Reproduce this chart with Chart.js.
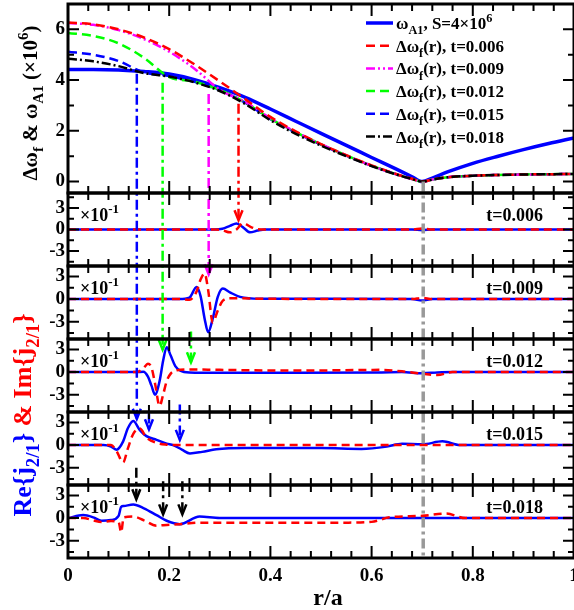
<!DOCTYPE html>
<html>
<head>
<meta charset="utf-8">
<script src="https://cdn.jsdelivr.net/npm/chart.js@4.4.1/dist/chart.umd.min.js"></script>
<style>
  html, body { margin: 0; padding: 0; background: #fff; }
  #wrap { width: 574px; height: 610px; }
</style>
</head>
<body>
<div id="wrap"><canvas id="chart" width="574" height="610"></canvas></div>
<script>
// ---- top panel: frequencies (x10^6) ----
const rTop = [0, 0.05, 0.1, 0.15, 0.2, 0.25, 0.3, 0.35, 0.4, 0.45, 0.5, 0.55, 0.6, 0.65, 0.68, 0.7, 0.72, 0.75, 0.8, 0.85, 0.9, 0.95, 1.0];
const omegaA1 = [4.42, 4.42, 4.40, 4.34, 4.24, 4.02, 3.70, 3.32, 2.86, 2.38, 1.90, 1.43, 0.95, 0.48, 0.19, 0.0, 0.14, 0.38, 0.72, 1.00, 1.26, 1.50, 1.72];
const dwf006 = [6.27, 6.20, 6.00, 5.68, 5.22, 4.62, 3.95, 3.25, 2.55, 1.98, 1.48, 1.04, 0.64, 0.29, 0.11, 0.0, 0.08, 0.17, 0.23, 0.26, 0.28, 0.29, 0.30];
const dwf009 = [6.25, 6.18, 5.97, 5.62, 5.12, 4.45, 3.62, 3.14, 2.50, 1.96, 1.47, 1.03, 0.63, 0.28, 0.10, 0.0, 0.08, 0.17, 0.23, 0.26, 0.28, 0.29, 0.30];
const dwf012 = [5.86, 5.74, 5.45, 4.88, 4.12, 3.94, 3.61, 3.12, 2.48, 1.95, 1.47, 1.03, 0.63, 0.28, 0.10, 0.0, 0.08, 0.17, 0.23, 0.26, 0.28, 0.29, 0.30];
const dwf015 = [5.12, 5.00, 4.75, 4.30, 4.16, 3.93, 3.60, 3.11, 2.46, 1.93, 1.46, 1.02, 0.62, 0.28, 0.10, 0.0, 0.08, 0.17, 0.23, 0.26, 0.28, 0.29, 0.30];
const dwf018 = [4.84, 4.74, 4.55, 4.28, 4.14, 3.91, 3.57, 3.06, 2.42, 1.88, 1.42, 1.00, 0.61, 0.27, 0.10, 0.0, 0.08, 0.17, 0.23, 0.26, 0.28, 0.29, 0.30];

// ---- lower panels: Re{j21} and Im{j21} (x10^-1) ----
const tLabels = ["0.006", "0.009", "0.012", "0.015", "0.018"];

const r006 = [0, 0.29, 0.305, 0.32, 0.333, 0.346, 0.36, 0.375, 0.39, 0.68, 0.70, 0.72, 1.0];
const re006 = [0, 0, 0.1, 0.5, 0.85, 0.3, -0.4, -0.15, 0, 0, -0.1, 0, 0];
const im006 = [0, 0, -0.1, -0.4, 0.0, 0.9, 0.4, 0.05, 0, 0, 0.15, 0, 0];

const r009 = [0, 0.22, 0.24, 0.254, 0.262, 0.27, 0.277, 0.286, 0.296, 0.306, 0.32, 0.34, 0.38, 0.68, 0.70, 0.72, 1.0];
const re009 = [0, 0, 0.2, 1.6, 0.4, -2.6, -4.4, -2.6, 0.3, 1.4, 0.9, 0.3, 0.05, 0, -0.2, 0, 0];
const im009 = [0, 0, -0.1, 1.0, 2.6, 3.4, 1.2, -3.1, -1.5, -0.2, 0.1, 0.1, 0.05, 0, 0.15, 0, 0];

const r012 = [0, 0.135, 0.149, 0.158, 0.165, 0.172, 0.181, 0.188, 0.195, 0.203, 0.212, 0.222, 0.24, 0.3, 0.45, 0.62, 0.66, 0.7, 0.73, 0.76, 1.0];
const re012 = [0, 0, 0.05, -0.6, -1.8, -3.0, -1.2, 1.5, 3.3, 2.2, 0.8, 0.2, -0.05, -0.1, -0.1, -0.05, 0, -0.15, -0.05, 0, 0];
const im012 = [0, 0, 0.5, 1.1, 0.6, -1.5, -4.5, -3.0, -1.2, -0.2, 0.2, 0.3, 0.35, 0.3, 0.2, 0.3, 0.1, -0.2, -0.4, 0, 0];

const r015 = [0, 0.07, 0.085, 0.096, 0.109, 0.118, 0.129, 0.142, 0.155, 0.175, 0.195, 0.208, 0.225, 0.241, 0.265, 0.293, 0.35, 0.5, 0.58, 0.63, 0.66, 0.7, 0.74, 0.775, 0.8, 1.0];
const re015 = [0, 0, -0.2, -0.6, 0.5, 2.2, 3.2, 2.0, 1.2, 0.7, 0.2, 0.0, -0.6, -1.1, -0.9, -0.56, -0.4, -0.4, -0.5, -0.2, 0.17, 0.1, 0.5, 0, 0, 0];
const im015 = [0, 0, 0, -0.8, -2.3, -0.5, 1.5, 2.2, 1.0, 0.3, 0.05, 0, 0, 0, 0, 0, 0, 0, 0, 0, 0, 0, 0, 0, 0, 0];

const r018 = [0, 0.03, 0.05, 0.066, 0.085, 0.1, 0.105, 0.11, 0.129, 0.15, 0.175, 0.195, 0.221, 0.26, 0.3, 0.4, 0.55, 0.6, 0.635, 0.7, 0.747, 0.786, 1.0];
const re018 = [0, 0.4, 0.1, -0.35, -0.26, 0.3, 1.5, 1.6, 1.8, 1.3, 0.4, -0.35, -0.8, 0.2, 0, 0, 0, 0, 0, 0, 0, 0, 0];
const im018 = [0, 0, -0.3, -0.5, -0.4, -0.5, -1.9, 0.1, 0.2, -0.3, -1.0, -0.9, -0.8, -0.6, -0.6, -0.6, -0.6, -0.5, 0.1, 0.3, 0.6, 0, 0];

// ---- guide arrows (r position, start axis/value, end axis/value) ----
const arrowR = [0.337, 0.278, 0.187, 0.243, 0.136, 0.160, 0.221, 0.135, 0.188, 0.226];
const arrowFromAxis = ["yw", "yw", "yw", "y009", "yw", "y015", "y012", "y015", "y015", "y015"];
const arrowFromVal = [3.07, 3.45, 3.9, -4.3, 4.25, 4.2, -4.3, -3.0, -4.8, -4.8];
const arrowToAxis = ["y006", "y009", "y012", "y012", "y015", "y015", "y015", "y018", "y018", "y018"];
const arrowToVal = [1.3, 3.3, 3.0, 1.3, 3.5, 2.1, 0.7, 2.5, 0.5, 0.5];
const arrowColor = ["#ff0000", "#ff00ff", "#00ff00", "#00ff00", "#0000ff", "#0000ff", "#0000ff", "#000000", "#000000", "#000000"];
const resonanceR = 0.702;

const topTicks = [0, 2, 4, 6];
const lowTicks = [-3, 0, 3];
const xTicks = [0, 0.2, 0.4, 0.6, 0.8, 1];

const SERIF = '"Liberation Serif", "Times New Roman", serif';
const bold = (size) => `bold ${size}px ${SERIF}`;
const panelAxes = ["y006", "y009", "y012", "y015", "y018"];
const panelR = [r006, r009, r012, r015, r018];
const panelRe = [re006, re009, re012, re015, re018];
const panelIm = [im006, im009, im012, im015, im018];

const toPoints = (xs, ys) => xs.map((x, i) => ({ x, y: ys[i] }));

const topSeries = [
  { label: "wA1", data: omegaA1, color: "#0000ff", dash: [], width: 3.5, order: 3 },
  { label: "0.006", data: dwf006, color: "#ff0000", dash: [9, 5], width: 2.5, order: 2 },
  { label: "0.009", data: dwf009, color: "#ff00ff", dash: [9, 3, 2, 3, 2, 3], width: 2.5, order: 2 },
  { label: "0.012", data: dwf012, color: "#00ff00", dash: [9, 5], width: 2.5, order: 2 },
  { label: "0.015", data: dwf015, color: "#0000ff", dash: [9, 5], width: 2.5, order: 2 },
  { label: "0.018", data: dwf018, color: "#000000", dash: [9, 3, 2, 3], width: 2.5, order: 1 },
];

const datasets = [];
topSeries.forEach((s) => {
  datasets.push({
    label: s.label,
    data: toPoints(rTop, s.data),
    yAxisID: "yw",
    borderColor: s.color,
    borderWidth: s.width,
    borderDash: s.dash,
    pointRadius: 0,
    cubicInterpolationMode: "monotone",
    order: s.order,
  });
});
panelAxes.forEach((id, i) => {
  datasets.push({
    label: "Re " + tLabels[i],
    data: toPoints(panelR[i], panelRe[i]),
    yAxisID: id,
    borderColor: "#0000ff",
    borderWidth: 2.5,
    pointRadius: 0,
    cubicInterpolationMode: "monotone",
    order: 2,
  });
  datasets.push({
    label: "Im " + tLabels[i],
    data: toPoints(panelR[i], panelIm[i]),
    yAxisID: id,
    borderColor: "#ff0000",
    borderWidth: 2.5,
    borderDash: [8, 5],
    pointRadius: 0,
    cubicInterpolationMode: "monotone",
    order: 1,
  });
});

const zeroPad = (s) => {
  s.paddingTop = 0;
  s.paddingBottom = 0;
  s.paddingLeft = 0;
  s.paddingRight = 0;
};

const yTickStyle = {
  color: "#000",
  font: { family: SERIF, size: 19, weight: "bold" },
  padding: 3,
  autoSkip: false,
  includeBounds: false,
};

const scales = {
  x: {
    type: "linear",
    min: 0,
    max: 1,
    position: "bottom",
    grid: { display: false, drawTicks: false },
    border: { display: false },
    ticks: {
      stepSize: 0.04,
      autoSkip: false,
      maxRotation: 0,
      includeBounds: false,
      padding: 7,
      color: "#000",
      font: { family: SERIF, size: 19, weight: "bold" },
      callback: (v) => (xTicks.some((t) => Math.abs(t - v) < 1e-6) ? String(Math.round(v * 10) / 10) : ""),
    },
    afterFit: (s) => {
      s.height = 52;
      zeroPad(s);
    },
  },
  yw: {
    type: "linear",
    position: "left",
    stack: "panels",
    stackWeight: 189 / 73,
    weight: 6,
    min: -0.45,
    max: 7,
    grid: { display: false, drawTicks: false },
    border: { display: false },
    ticks: { ...yTickStyle, stepSize: 1, callback: (v) => (topTicks.includes(v) ? String(v) : "") },
    afterFit: (s) => {
      s.width = 68;
      zeroPad(s);
    },
  },
};
panelAxes.forEach((id, i) => {
  scales[id] = {
    type: "linear",
    position: "left",
    stack: "panels",
    stackWeight: 1,
    weight: 5 - i,
    min: i === 0 ? -5.1 : -5.3,
    max: i === 0 ? 5.1 : 4.4,
    grid: { display: false, drawTicks: false },
    border: { display: false },
    ticks: { ...yTickStyle, stepSize: 1.5, callback: (v) => (lowTicks.includes(v) ? String(v) : "") },
    afterFit: (s) => {
      s.width = 68;
      zeroPad(s);
    },
  };
});

const richWidth = (ctx, parts, size) => {
  let w = 0;
  parts.forEach((p) => {
    ctx.font = bold(p.sub || p.sup ? size * 0.72 : size);
    w += ctx.measureText(p.t).width;
  });
  return w;
};

const drawRich = (ctx, parts, x, y, size, align) => {
  let cx = x;
  if (align === "center") cx -= richWidth(ctx, parts, size) / 2;
  if (align === "right") cx -= richWidth(ctx, parts, size);
  parts.forEach((p) => {
    const s = p.sub || p.sup ? size * 0.72 : size;
    ctx.font = bold(s);
    ctx.fillStyle = p.color || "#000";
    const dy = p.sub ? size * 0.3 : p.sup ? -size * 0.42 : 0;
    ctx.fillText(p.t, cx, y + dy);
    cx += ctx.measureText(p.t).width;
  });
};

const panelsPlugin = {
  id: "panels",
  afterDatasetsDraw(chart) {
    const { ctx, chartArea, scales: sc } = chart;
    const xs = sc.x;
    const left = chartArea.left;
    const right = chartArea.right;
    ctx.save();
    ctx.lineCap = "butt";

    // resonance line
    const gx = xs.getPixelForValue(resonanceR);
    ctx.strokeStyle = "#999999";
    ctx.lineWidth = 3.5;
    ctx.setLineDash([10, 4, 3, 4]);
    ctx.beginPath();
    ctx.moveTo(gx, sc.yw.getPixelForValue(0));
    ctx.lineTo(gx, sc.y018.bottom);
    ctx.stroke();

    // guide arrows
    arrowR.forEach((r, i) => {
      const px = xs.getPixelForValue(r);
      const y0 = sc[arrowFromAxis[i]].getPixelForValue(arrowFromVal[i]);
      const y1 = sc[arrowToAxis[i]].getPixelForValue(arrowToVal[i]);
      ctx.strokeStyle = arrowColor[i];
      ctx.lineWidth = 2.5;
      ctx.setLineDash([10, 4, 3, 4]);
      ctx.beginPath();
      ctx.moveTo(px, y0);
      ctx.lineTo(px, y1);
      ctx.stroke();
      ctx.setLineDash([]);
      ctx.beginPath();
      ctx.moveTo(px - 4, y1 - 10);
      ctx.lineTo(px, y1);
      ctx.lineTo(px + 4, y1 - 10);
      ctx.stroke();
    });

    // frames and inward ticks
    ctx.setLineDash([]);
    ["yw", ...panelAxes].forEach((id) => {
      const ys = sc[id];
      const top = ys.top;
      const bottom = ys.bottom;
      ctx.strokeStyle = "#000";
      ctx.lineWidth = 2;
      ctx.beginPath();
      xs.ticks.forEach((t) => {
        const px = xs.getPixelForValue(t.value);
        const len = t.label !== "" ? 12 : 7;
        ctx.moveTo(px, top);
        ctx.lineTo(px, top + len);
        ctx.moveTo(px, bottom);
        ctx.lineTo(px, bottom - len);
      });
      ys.ticks.forEach((t) => {
        const py = ys.getPixelForValue(t.value);
        if (py <= top + 1 || py >= bottom - 1) return;
        const len = t.label !== "" ? 11 : 6;
        ctx.moveTo(left, py);
        ctx.lineTo(left + len, py);
        ctx.moveTo(right, py);
        ctx.lineTo(right - len, py);
      });
      ctx.stroke();
      ctx.lineWidth = 3;
      ctx.strokeRect(left, top, right - left, bottom - top);
    });

    // panel annotations
    ctx.textBaseline = "alphabetic";
    panelAxes.forEach((id, i) => {
      const top = sc[id].top;
      drawRich(ctx, [{ t: "×10" }, { t: "-1", sup: true }], left + 12, top + 28, 18, "left");
      drawRich(ctx, [{ t: "t=" + tLabels[i] }], right - 31, top + 28, 18, "right");
    });

    // legend
    const legendText = [
      [{ t: "ω" }, { t: "A1", sub: true }, { t: ", S=4×10" }, { t: "6", sup: true }],
      ...tLabels.map((t) => [{ t: "Δω" }, { t: "f", sub: true }, { t: "(r), t=" + t }]),
    ];
    legendText.forEach((parts, i) => {
      const s = topSeries[i];
      const cy = chartArea.top + 19 + i * 22.7;
      ctx.strokeStyle = s.color;
      ctx.lineWidth = s.width;
      ctx.setLineDash(s.dash);
      ctx.beginPath();
      ctx.moveTo(366, cy);
      ctx.lineTo(393, cy);
      ctx.stroke();
      ctx.setLineDash([]);
      drawRich(ctx, parts, 396, cy + 6, 17, "left");
    });

    // axis titles
    drawRich(ctx, [{ t: "r/a" }], 328, 605, 24, "center");

    ctx.save();
    ctx.translate(37, 103);
    ctx.rotate(-Math.PI / 2);
    drawRich(ctx, [{ t: "Δω" }, { t: "f", sub: true }, { t: " & ω" }, { t: "A1", sub: true }, { t: " (×10" }, { t: "6", sup: true }, { t: ")" }], 0, 0, 21, "center");
    ctx.restore();

    ctx.save();
    ctx.translate(31, 415);
    ctx.rotate(-Math.PI / 2);
    drawRich(ctx, [
      { t: "Re{j", color: "#0000ff" },
      { t: "2/1", sub: true, color: "#0000ff" },
      { t: "}", color: "#0000ff" },
      { t: " & Im{j", color: "#ff0000" },
      { t: "2/1", sub: true, color: "#ff0000" },
      { t: "}", color: "#ff0000" },
    ], 0, 0, 26, "center");
    ctx.restore();

    ctx.restore();
  },
};

new Chart(document.getElementById("chart"), {
  type: "line",
  data: { datasets },
  options: {
    responsive: false,
    animation: false,
    layout: { padding: { top: 4, right: 0, bottom: 0, left: 0 } },
    plugins: { legend: { display: false }, tooltip: { enabled: false } },
    elements: { line: { fill: false } },
    scales,
  },
  plugins: [panelsPlugin],
});
</script>
</body>
</html>
